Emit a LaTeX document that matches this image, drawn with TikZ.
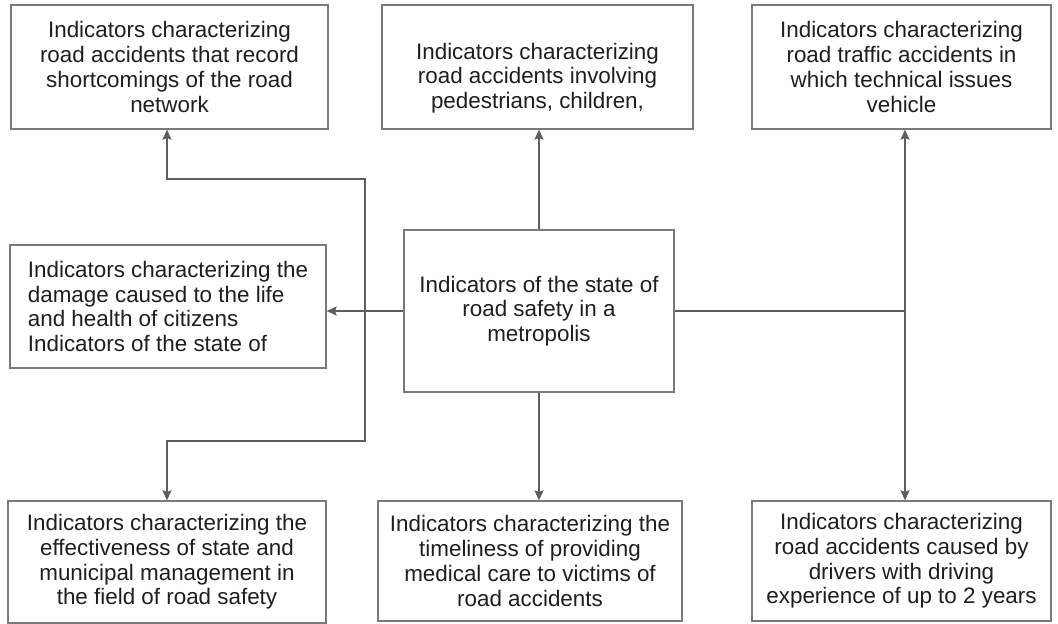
\documentclass[tikz,border=0pt]{standalone}
\usepackage{fontspec}
\setmainfont{Liberation Sans}
\usetikzlibrary{arrows.meta}
\definecolor{framegray}{HTML}{7A7A7A}
\definecolor{linegray}{HTML}{5E5E5E}
\definecolor{inkgray}{HTML}{1E1E1E}
\tikzset{
  box/.style={draw=framegray, line width=1.2pt, text=inkgray, align=center,
    inner sep=2pt, font=\fontsize{22.4}{24.7}\selectfont},
  link/.style={draw=linegray, line width=1.8pt,
    >={Stealth[length=10pt,width=9pt,inset=1.5pt]}}
}
\begin{document}
\begin{tikzpicture}[x=1pt, y=-1pt]
  \useasboundingbox (0,0) rectangle (1058,624);
  \node[box, minimum width=317, minimum height=124] (tl) at (169.5,67)
    {Indicators characterizing\\road accidents that record\\shortcomings of the road\\network};
  \node[box, minimum width=311, minimum height=124] (tm) at (537.5,67) {};
  \node[box, draw=none, yshift=-11pt] (tmtext) at (tm.center)
    {Indicators characterizing\\road accidents involving\\pedestrians, children,};
  \node[box, minimum width=299, minimum height=124] (tr) at (901.5,67)
    {Indicators characterizing\\road traffic accidents in\\which technical issues\\vehicle};
  \node[box, align=left, minimum width=316, minimum height=123] (ml) at (168,306.5)
    {Indicators characterizing the\\damage caused to the life\\and health of citizens\\Indicators of the state of};
  \node[box, minimum width=270, minimum height=162] (hub) at (539,311)
    {Indicators of the state of\\road safety in a\\metropolis};
  \node[box, minimum width=318, minimum height=122] (bl) at (167,562)
    {Indicators characterizing the\\effectiveness of state and\\municipal management in\\the field of road safety};
  \node[box, minimum width=304, minimum height=120] (bm) at (530,561)
    {Indicators characterizing the\\timeliness of providing\\medical care to victims of\\road accidents};
  \node[box, minimum width=299, minimum height=120] (br) at (901.5,561)
    {Indicators characterizing\\road accidents caused by\\drivers with driving\\experience of up to 2 years};

  % bends of the left loop and the right bus
  \coordinate (up) at (365,179);
  \coordinate (down) at (365,441);
  \coordinate (rv) at (905,311);

  \draw[link,<->] (tl.south -| bl.north) |- (up) -- (down) -| (bl.north);
  \draw[link,->] (hub.west) -- (hub.west -| ml.east);
  \draw[link,->] (hub.north) -- (hub.north |- tm.south);
  \draw[link,->] (hub.south) -- (hub.south |- bm.north);
  \draw[link] (hub.east) -- (rv);
  \draw[link,<->] (tr.south -| rv) -- (br.north -| rv);
\end{tikzpicture}
\end{document}
